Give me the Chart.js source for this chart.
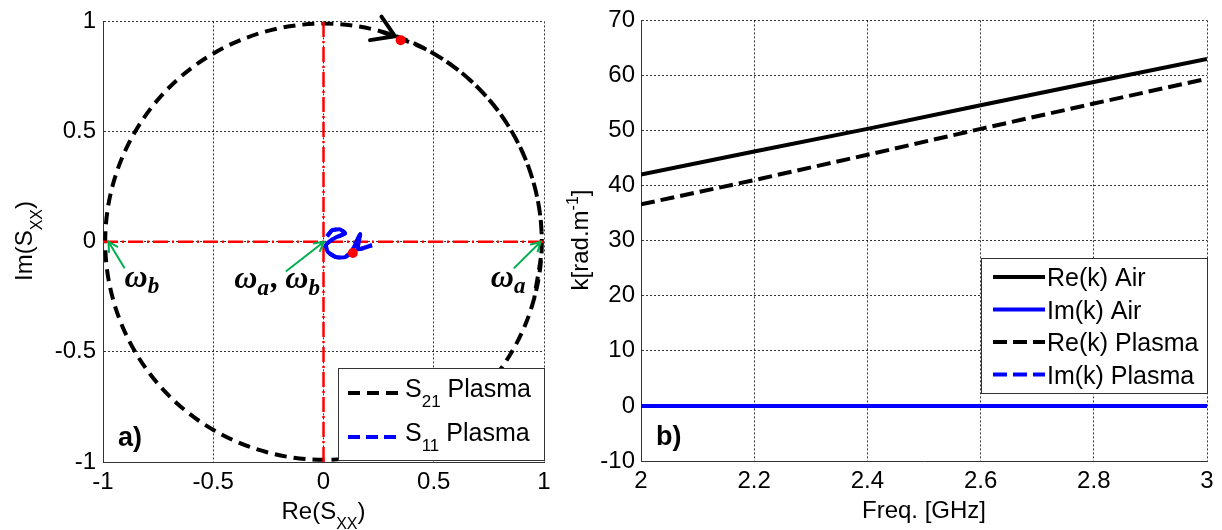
<!DOCTYPE html>
<html>
<head>
<meta charset="utf-8">
<script src="https://cdn.jsdelivr.net/npm/chart.js@4.4.0/dist/chart.umd.min.js"></script>
<style>
    html, body { margin: 0; padding: 0; background: #fff; }
    #wrap { position: relative; width: 1222px; height: 530px; overflow: hidden; }
    canvas { position: absolute; top: 0; }
    #left-chart { left: 0; }
    #right-chart { left: 550px; }
</style>
</head>
<body>
<div id="wrap">
    <canvas id="left-chart" width="600" height="530"></canvas>
    <canvas id="right-chart" width="672" height="530"></canvas>
</div>
<script>
// ---- panel a) : S-parameters in the complex plane ----
const s21Re = [0.256, 0.495, 0.700, 0.857, 0.956, 0.990, 0.956, 0.857, 0.700, 0.495, 0.256, 0.000,
    -0.256, -0.495, -0.700, -0.857, -0.956, -0.990, -0.956, -0.857, -0.700, -0.495, -0.256, 0.000,
    0.256, 0.495, 0.700, 0.857, 0.956, 0.990, 0.956];
const s21Im = [0.956, 0.857, 0.700, 0.495, 0.256, 0.000, -0.256, -0.495, -0.700, -0.857, -0.956, -0.990,
    -0.956, -0.857, -0.700, -0.495, -0.256, 0.000, 0.256, 0.495, 0.700, 0.857, 0.956, 0.990,
    0.956, 0.857, 0.700, 0.495, 0.256, 0.000, -0.256];
const s11Re = [0.016, 0.039, 0.075, 0.098, 0.057, 0.029, 0.011, 0.020, 0.057, 0.098, 0.129, 0.166, 0.156, 0.220];
const s11Im = [0.025, 0.052, 0.056, 0.038, 0.020, 0.002, -0.016, -0.047, -0.070, -0.070, -0.043, 0.034, -0.034, -0.016];
const dirArrowRe = [0.263, 0.324, 0.211];
const dirArrowIm = [1.022, 0.933, 0.915];
const markerRe = [0.350, 0.133];
const markerIm = [0.915, -0.051];
const crossSpan = [-1, 1];
const freqMarkTail = [[-0.902, -0.121], [-0.171, -0.135], [0.863, -0.121]];
const freqMarkHead = [[-0.975, 0.000], [0.002, 0.000], [0.985, 0.000]];
const freqMarkText = [
    [{ t: 'ω' }, { t: 'b', sub: true }],
    [{ t: 'ω' }, { t: 'a', sub: true }, { t: ',\u2009' }, { t: 'ω' }, { t: 'b', sub: true }],
    [{ t: 'ω' }, { t: 'a', sub: true }]
];
const freqMarkAnchor = [[-0.902, -0.205], [-0.007, -0.212], [0.759, -0.205]];
const freqMarkAlign = ['left', 'right', 'left'];

// ---- panel b) : wave number vs frequency ----
const freqGHz = [2.0, 2.2, 2.4, 2.6, 2.8, 3.0];
const reKAir = [42.0, 46.2, 50.3, 54.6, 58.8, 63.0];
const imKAir = [0, 0, 0, 0, 0, 0];
const reKPlasma = [36.6, 41.0, 45.6, 50.3, 54.9, 59.4];
const imKPlasma = [0, 0, 0, 0, 0, 0];

Chart.defaults.font.family = '"Liberation Sans", Arial, sans-serif';
Chart.defaults.color = '#000';

const toPoints = function (xs, ys) {
    return xs.map((x, i) => ({ x: x, y: ys[i] }));
};

// matlab style tick text: 1 not 1.0, -0.5 not −0.5
const plainTick = function (value) {
    return String(Number(value.toFixed(3)));
};

const drawRich = function (ctx, parts, x, y, o) {
    const size = o.size;
    const subSize = Math.round(size * (o.subScale || 0.68));
    const family = o.family || '"Liberation Sans", Arial, sans-serif';
    const style = o.style || '';
    const fontOf = p => `${style} ${(p.sub || p.sup) ? subSize : size}px ${family}`;
    let total = 0;
    parts.forEach(p => { ctx.font = fontOf(p); total += ctx.measureText(p.t).width + (p.sub ? (o.subPad || 0) : 0); });
    let cx = o.align === 'center' ? x - total / 2 : (o.align === 'right' ? x - total : x);
    ctx.textAlign = 'left';
    ctx.textBaseline = 'alphabetic';
    parts.forEach(p => {
        ctx.font = fontOf(p);
        const dy = p.sub ? size * (o.subShift || 0.4) : (p.sup ? -size * 0.42 : 0);
        ctx.fillText(p.t, cx, y + dy);
        cx += ctx.measureText(p.t).width + (p.sub ? (o.subPad || 0) : 0);
    });
};

const panelExtras = {
    id: 'panelExtras',
    afterDraw(chart, args, opts) {
        const ctx = chart.ctx;
        const sx = chart.scales.x, sy = chart.scales.y;
        ctx.save();
        ctx.fillStyle = '#000';

        // green frequency markers
        (opts.marks || []).forEach(m => {
            const x1 = sx.getPixelForValue(m.tail[0]), y1 = sy.getPixelForValue(m.tail[1]);
            const x2 = sx.getPixelForValue(m.head[0]), y2 = sy.getPixelForValue(m.head[1]);
            const ang = Math.atan2(y2 - y1, x2 - x1);
            ctx.strokeStyle = '#00b050';
            ctx.lineWidth = 2;
            ctx.setLineDash([]);
            ctx.beginPath();
            ctx.moveTo(x1, y1);
            ctx.lineTo(x2, y2);
            ctx.moveTo(x2 - 11 * Math.cos(ang - 0.5), y2 - 11 * Math.sin(ang - 0.5));
            ctx.lineTo(x2, y2);
            ctx.lineTo(x2 - 11 * Math.cos(ang + 0.5), y2 - 11 * Math.sin(ang + 0.5));
            ctx.stroke();
            ctx.fillStyle = '#000';
            drawRich(ctx, m.text, sx.getPixelForValue(m.anchor[0]), sy.getPixelForValue(m.anchor[1]),
                { size: 32, family: '"Liberation Serif", "DejaVu Serif", serif', style: 'italic bold',
                  align: m.align, subScale: 0.72, subShift: 0.2, subPad: 2 });
        });

        // legend box
        const lg = opts.legend;
        if (lg) {
            ctx.fillStyle = '#fff';
            ctx.fillRect(lg.left, lg.top, lg.width, lg.height);
            ctx.strokeStyle = '#333';
            ctx.lineWidth = 1;
            ctx.setLineDash([]);
            ctx.strokeRect(lg.left + 0.5, lg.top + 0.5, lg.width, lg.height);
            lg.items.forEach((item, i) => {
                const ds = chart.data.datasets[item.dataset];
                const yy = lg.rows[i];
                ctx.strokeStyle = ds.borderColor;
                ctx.lineWidth = ds.borderWidth;
                ctx.setLineDash(ds.borderDash || []);
                ctx.beginPath();
                ctx.moveTo(lg.sample[0], yy);
                ctx.lineTo(lg.sample[1], yy);
                ctx.stroke();
                ctx.setLineDash([]);
                ctx.fillStyle = '#000';
                drawRich(ctx, item.label, lg.textX, yy + lg.baseShift, { size: 25, align: 'left' });
            });
        }

        // axis titles
        ctx.fillStyle = '#000';
        const xt = opts.xTitle;
        drawRich(ctx, xt.parts, xt.x, xt.y, { size: 24, align: 'center' });
        const yt = opts.yTitle;
        ctx.save();
        ctx.translate(yt.x, yt.y);
        ctx.rotate(-Math.PI / 2);
        drawRich(ctx, yt.parts, 0, 0, { size: 24, align: 'center' });
        ctx.restore();

        // panel tag
        ctx.font = 'bold 27px "Liberation Sans", Arial, sans-serif';
        ctx.textAlign = 'left';
        ctx.textBaseline = 'alphabetic';
        ctx.fillText(opts.tag.text, opts.tag.x, opts.tag.y);
        ctx.restore();
    }
};

const gridOpts = { color: 'rgba(0,0,0,0.8)', lineWidth: 1, drawTicks: false };
const borderOpts = { color: '#333', width: 1, dash: [2, 2] };
const tickFont = { size: 24 };

const leftHandler = function () {
    const datasets = [
        { data: toPoints(markerRe, markerIm), showLine: false, pointRadius: 5, pointBackgroundColor: '#ff0000',
          pointBorderWidth: 0, borderColor: '#ff0000' },
        { data: toPoints(dirArrowRe, dirArrowIm), showLine: true, borderColor: '#000', borderWidth: 4,
          clip: false, borderCapStyle: 'round' },
        { data: toPoints(s11Re, s11Im), showLine: true, borderColor: '#0000ff', borderWidth: 4,
          borderDash: [12, 6], tension: 0.15, borderJoinStyle: 'round' },
        { data: toPoints(s11Re, s11Im), showLine: true, borderColor: '#0000ff', borderWidth: 4,
          tension: 0.15, borderJoinStyle: 'round' },
        { data: toPoints(crossSpan, [0, 0]), showLine: true, borderColor: '#ff0000', borderWidth: 2.5,
          borderDash: [15, 4, 2, 4] },
        { data: toPoints([0, 0], crossSpan), showLine: true, borderColor: '#ff0000', borderWidth: 2.5,
          borderDash: [15, 4, 2, 4] },
        { data: toPoints(s21Re, s21Im), showLine: true, borderColor: '#000', borderWidth: 4,
          borderDash: [12, 7], tension: 0.34 }
    ];
    const marks = freqMarkTail.map((t, i) => ({
        tail: t, head: freqMarkHead[i], text: freqMarkText[i], anchor: freqMarkAnchor[i], align: freqMarkAlign[i]
    }));
    new Chart('left-chart', {
        type: 'scatter',
        data: { datasets: datasets },
        options: {
            responsive: false,
            animation: false,
            events: [],
            layout: { padding: { left: 0, right: 56, top: 19, bottom: 0 } },
            elements: { point: { radius: 0 } },
            plugins: {
                legend: { display: false },
                tooltip: { enabled: false },
                panelExtras: {
                    marks: marks,
                    legend: {
                        left: 338, top: 368, width: 206, height: 92, rows: [393, 437], sample: [348, 402],
                        textX: 405, baseShift: 4,
                        items: [
                            { dataset: 6, label: [{ t: 'S' }, { t: '21', sub: true }, { t: ' Plasma' }] },
                            { dataset: 2, label: [{ t: 'S' }, { t: '11', sub: true }, { t: ' Plasma' }] }
                        ]
                    },
                    xTitle: { x: 323.5, y: 519, parts: [{ t: 'Re(S' }, { t: 'XX', sub: true }, { t: ')' }] },
                    yTitle: { x: 32, y: 241, parts: [{ t: 'Im(S' }, { t: 'XX', sub: true }, { t: ')' }] },
                    tag: { text: 'a)', x: 118, y: 446 }
                }
            },
            scales: {
                x: {
                    type: 'linear', min: -1, max: 1,
                    ticks: { stepSize: 0.5, padding: 6, font: tickFont, color: '#000', maxRotation: 0, callback: plainTick },
                    grid: gridOpts, border: borderOpts,
                    afterFit: function (scale) { scale.height = 68; }
                },
                y: {
                    type: 'linear', min: -1, max: 1,
                    ticks: { stepSize: 0.5, padding: 7, font: tickFont, color: '#000', callback: plainTick },
                    grid: gridOpts, border: borderOpts,
                    afterFit: function (scale) { scale.width = 103; }
                }
            }
        },
        plugins: [panelExtras]
    });
};

const rightHandler = function () {
    const datasets = [
        { data: toPoints(freqGHz, reKAir), showLine: true, borderColor: '#000', borderWidth: 4 },
        { data: toPoints(freqGHz, imKAir), showLine: true, borderColor: '#0000ff', borderWidth: 4 },
        { data: toPoints(freqGHz, reKPlasma), showLine: true, borderColor: '#000', borderWidth: 4,
          borderDash: [14, 6] },
        { data: toPoints(freqGHz, imKPlasma), showLine: true, borderColor: '#0000ff', borderWidth: 4,
          borderDash: [14, 6] }
    ];
    new Chart('right-chart', {
        type: 'scatter',
        data: { datasets: datasets },
        options: {
            responsive: false,
            animation: false,
            events: [],
            layout: { padding: { left: 0, right: 15, top: 19, bottom: 0 } },
            elements: { point: { radius: 0 } },
            plugins: {
                legend: { display: false },
                tooltip: { enabled: false },
                panelExtras: {
                    legend: {
                        left: 431, top: 258, width: 226, height: 135, rows: [277, 309.5, 342, 374.5],
                        sample: [443, 495], textX: 497, baseShift: 9,
                        items: [
                            { dataset: 0, label: [{ t: 'Re(k) Air' }] },
                            { dataset: 1, label: [{ t: 'Im(k) Air' }] },
                            { dataset: 2, label: [{ t: 'Re(k) Plasma' }] },
                            { dataset: 3, label: [{ t: 'Im(k) Plasma' }] }
                        ]
                    },
                    xTitle: { x: 374, y: 518, parts: [{ t: 'Freq. [GHz]' }] },
                    yTitle: { x: 38, y: 240, parts: [{ t: 'k[rad.m' }, { t: '-1', sup: true }, { t: ']' }] },
                    tag: { text: 'b)', x: 106, y: 445 }
                }
            },
            scales: {
                x: {
                    type: 'linear', min: 2, max: 3,
                    ticks: { stepSize: 0.2, padding: 6, font: tickFont, color: '#000', maxRotation: 0, callback: plainTick },
                    grid: gridOpts, border: borderOpts,
                    afterFit: function (scale) { scale.height = 69; }
                },
                y: {
                    type: 'linear', min: -10, max: 70,
                    ticks: { stepSize: 10, padding: 6, font: tickFont, color: '#000', callback: plainTick },
                    grid: gridOpts, border: borderOpts,
                    afterFit: function (scale) { scale.width = 91; }
                }
            }
        },
        plugins: [panelExtras]
    });
};

leftHandler();
rightHandler();
</script>
</body>
</html>
